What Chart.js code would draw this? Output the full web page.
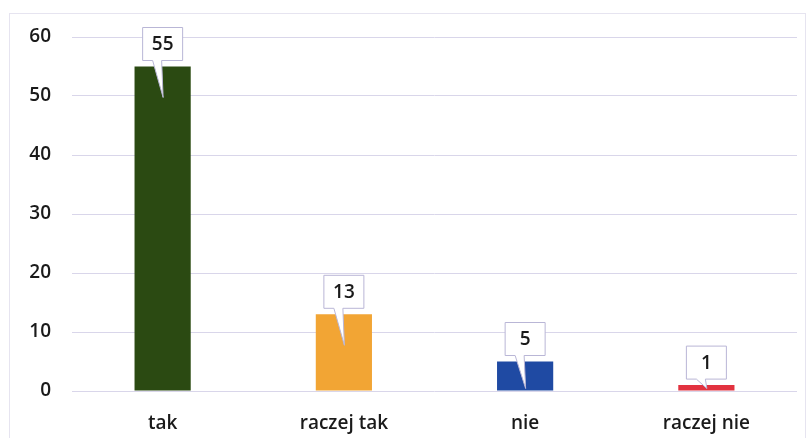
<!DOCTYPE html>
<html>
<head>
<meta charset="utf-8">
<script src="https://cdn.jsdelivr.net/npm/chart.js@4.4.1/dist/chart.umd.min.js"></script>
<style>
  html, body { margin: 0; padding: 0; background: #fff; }
  #wrap { width: 807px; height: 438px; position: relative; }
</style>
</head>
<body>
<div id="wrap"><canvas id="chart" width="807" height="438"></canvas></div>
<script>
const categories = ["tak", "raczej tak", "nie", "raczej nie"];
const answers = [55, 13, 5, 1];
const barColors = ["#2b4a12", "#f2a534", "#1f4aa3", "#e2323f"];
const yTicks = [0, 10, 20, 30, 40, 50, 60];

const fontFamily = "'Open Sans', sans-serif";

// faint frame around the whole chart, like the scanned original
const framePlugin = {
  id: "frame",
  beforeDraw(chart) {
    const ctx = chart.ctx;
    ctx.save();
    ctx.strokeStyle = "#e6e4f0";
    ctx.lineWidth = 1;
    ctx.strokeRect(9.5, 13.5, 796, 430);
    ctx.restore();
  }
};

// speech-bubble value labels pointing into the bars
const calloutPlugin = {
  id: "callouts",
  afterDatasetsDraw(chart) {
    const ctx = chart.ctx;
    const meta = chart.getDatasetMeta(0);
    ctx.save();
    ctx.font = "600 19px " + fontFamily;
    ctx.textAlign = "center";
    ctx.textBaseline = "middle";
    meta.data.forEach((bar, i) => {
      const x = bar.x;
      const top = bar.y;
      const w = 40, h = 33;
      const bottom = top - 6;
      const left = x - w / 2;
      const tipY = Math.min(top + 31, bar.base - 2);
      ctx.beginPath();
      ctx.moveTo(left, bottom - h);
      ctx.lineTo(left + w, bottom - h);
      ctx.lineTo(left + w, bottom);
      ctx.lineTo(x - 1, bottom);
      ctx.lineTo(x + 0.5, tipY);
      ctx.lineTo(x - 10, bottom);
      ctx.lineTo(left, bottom);
      ctx.closePath();
      ctx.fillStyle = "#ffffff";
      ctx.fill();
      ctx.strokeStyle = "#b9b6d6";
      ctx.lineWidth = 1;
      ctx.stroke();
      ctx.fillStyle = "#1a1a1a";
      ctx.fillText(String(answers[i]), x, bottom - h / 2 + 1);
    });
    ctx.restore();
  }
};

new Chart(document.getElementById("chart"), {
  type: "bar",
  data: {
    labels: categories,
    datasets: [{
      data: answers,
      backgroundColor: barColors,
      borderWidth: 0,
      categoryPercentage: 1,
      barPercentage: 0.31
    }]
  },
  options: {
    responsive: false,
    animation: false,
    layout: { padding: { top: 37, right: 10, left: 0, bottom: 0 } },
    plugins: { legend: { display: false }, tooltip: { enabled: false } },
    scales: {
      x: {
        grid: { display: false, drawTicks: false },
        border: { display: false },
        ticks: { color: "#1a1a1a", font: { family: fontFamily, size: 19, weight: "600" }, padding: 21 },
        afterFit: (s) => { s.height = 47; }
      },
      y: {
        min: yTicks[0],
        max: yTicks[yTicks.length - 1],
        afterBuildTicks: (s) => { s.ticks = yTicks.map((v) => ({ value: v })); },
        grid: { color: "#d9d6ea", drawTicks: false, lineWidth: 1 },
        border: { display: false },
        ticks: { color: "#1a1a1a", font: { family: fontFamily, size: 19, weight: "600" }, padding: 21 },
        afterFit: (s) => { s.width = 72; }
      }
    }
  },
  plugins: [framePlugin, calloutPlugin]
});
</script>
</body>
</html>
